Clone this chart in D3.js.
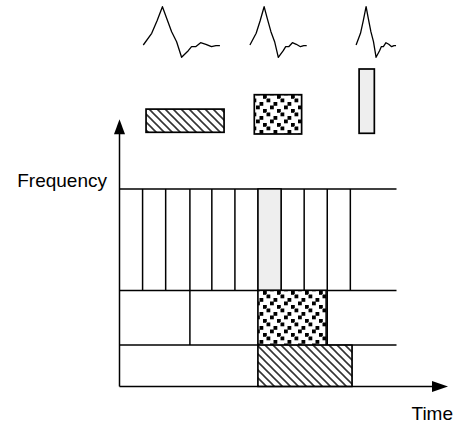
<!DOCTYPE html>
<html>
<head>
<meta charset="utf-8">
<script src="https://cdn.jsdelivr.net/npm/d3@7"></script>
<style>
  html, body { margin: 0; padding: 0; background: #fff; }
  svg { display: block; }
</style>
</head>
<body>
<div id="chart"></div>
<script>
// ---------------- data ----------------
const axisLabels = { x: "Time", y: "Frequency" };

// frequency band edges (frequency units)
const bandEdges = [0, 15.5, 36, 74];

// time cuts (time units) inside each band
const highBandCuts = [1, 2, 3.05, 4, 5, 6, 7, 8, 9, 10];
const midBandCuts = [3.05, 6, 9];
const lowBandCuts = [6, 10.07];
const bandRightEnd = 12;

// highlighted tiles
const tileNames = ["narrowHigh", "mediumMid", "wideLow"];
const tileTime = [[6, 7], [6, 8.95], [6, 10.07]];
const tileFreq = [[36, 74], [15.5, 36], [0, 15.5]];
const tileFill = ["gray", "dots", "hatch"];

// icon boxes above the plot: time extent and icon-height extent
const iconTime = [[1.15, 4.53], [5.84, 7.89], [10.38, 11.04]];
const iconLevel = [[1.7, 24.9], [0, 39.3], [0.7, 65]];
const iconFill = ["hatch", "dots", "gray"];

// waveform shape: relative time (0..1) and amplitude
const waveT = [0, 0.11, 0.18, 0.25, 0.305, 0.37, 0.435, 0.50, 0.587, 0.63, 0.683, 0.748, 0.817, 0.89, 0.948, 1];
const waveA = [0, 11.7, 24.3, 38.3, 26.7, 13.3, 3.3, -12.3, -5.7, -1.7, -1.7, 2.3, 0.7, -1.7, -0.7, -0.7];
// three waveforms: start time and duration (time units)
const waveStart = [1.03, 5.65, 10.25];
const waveDur = [3.32, 2.46, 1.73];

// ---------------- drawing ----------------
const W = 453, H = 427;
const svg = d3.select("#chart").append("svg")
  .attr("width", W).attr("height", H)
  .attr("font-family", "'Liberation Sans', Arial, sans-serif");

svg.append("rect").attr("width", W).attr("height", H).attr("fill", "#fff");

const x = d3.scaleLinear().domain([0, 12]).range([119.5, 396.5]);
const y = d3.scaleLinear().domain([0, 100]).range([386.5, 119.5]);
const iconY = d3.scaleLinear().domain([0, 100]).range([134, 34]);
const waveY = d3.scaleLinear().domain([0, 10]).range([45, 35]);

// patterns
const defs = svg.append("defs");
const hatch = defs.append("pattern").attr("id", "hatch")
  .attr("patternUnits", "userSpaceOnUse").attr("width", 8).attr("height", 8);
hatch.append("rect").attr("width", 8).attr("height", 8).attr("fill", "#fff");
hatch.append("path").attr("d", "M-2,-2L10,10M-2,6L2,10M6,-2L10,2")
  .attr("stroke", "#333").attr("stroke-width", 1.6);

const dots = defs.append("pattern").attr("id", "dots")
  .attr("patternUnits", "userSpaceOnUse").attr("width", 14).attr("height", 14);
dots.append("rect").attr("width", 14).attr("height", 14).attr("fill", "#fff");
[[0.5, 0.5], [7.5, 4], [4, 7.5], [11, 11], [-3, 11], [11, -3]].forEach(p => {
  dots.append("rect").attr("x", p[0]).attr("y", p[1])
    .attr("width", 3.8).attr("height", 3.8).attr("fill", "#000");
});
const fillOf = f => f === "gray" ? "#eeeeee" : `url(#${f})`;

const lw = 1.5;
const g = svg.append("g");

// band horizontal lines
bandEdges.slice(1).forEach(f => {
  g.append("line").attr("x1", x(0)).attr("x2", x(bandRightEnd))
    .attr("y1", y(f)).attr("y2", y(f))
    .attr("stroke", "#000").attr("stroke-width", lw);
});

// cuts
const cutSets = [lowBandCuts, midBandCuts, highBandCuts];
cutSets.forEach((cuts, i) => {
  cuts.forEach(t => {
    g.append("line").attr("x1", x(t)).attr("x2", x(t))
      .attr("y1", y(bandEdges[i])).attr("y2", y(bandEdges[i + 1]))
      .attr("stroke", "#000").attr("stroke-width", lw);
  });
});

// highlighted tiles
tileNames.forEach((n, i) => {
  g.append("rect")
    .attr("x", x(tileTime[i][0])).attr("y", y(tileFreq[i][1]))
    .attr("width", x(tileTime[i][1]) - x(tileTime[i][0]))
    .attr("height", y(tileFreq[i][0]) - y(tileFreq[i][1]))
    .attr("fill", fillOf(tileFill[i]))
    .attr("stroke", "#000").attr("stroke-width", lw);
});

// axes
const tipX = 448, tipY = 119.3;
g.append("line").attr("x1", x(0)).attr("x2", tipX - 14)
  .attr("y1", y(0)).attr("y2", y(0)).attr("stroke", "#000").attr("stroke-width", lw);
g.append("line").attr("x1", x(0)).attr("x2", x(0))
  .attr("y1", y(0)).attr("y2", tipY + 12).attr("stroke", "#000").attr("stroke-width", lw);
g.append("path")
  .attr("d", `M${tipX},${y(0)}L${tipX - 16},${y(0) - 5.5}L${tipX - 16},${y(0) + 5.5}Z`)
  .attr("fill", "#000");
g.append("path")
  .attr("d", `M${x(0)},${tipY}L${x(0) - 5.5},${tipY + 15}L${x(0) + 5.5},${tipY + 15}Z`)
  .attr("fill", "#000");

// axis labels
svg.append("text").attr("x", 107).attr("y", 187)
  .attr("text-anchor", "end").attr("font-size", 19).attr("fill", "#000")
  .text(axisLabels.y);
svg.append("text").attr("x", 411.5).attr("y", 420)
  .attr("text-anchor", "start").attr("font-size", 19).attr("fill", "#000")
  .text(axisLabels.x);

// icon boxes
iconTime.forEach((t, i) => {
  svg.append("rect")
    .attr("x", x(t[0])).attr("y", iconY(iconLevel[i][1]))
    .attr("width", x(t[1]) - x(t[0]))
    .attr("height", iconY(iconLevel[i][0]) - iconY(iconLevel[i][1]))
    .attr("fill", fillOf(iconFill[i]))
    .attr("stroke", "#000").attr("stroke-width", 1.7);
});

// waveforms
waveStart.forEach((s, i) => {
  const line = d3.line()
    .x((d, j) => x(s + waveT[j] * waveDur[i]))
    .y(d => waveY(d));
  svg.append("path").datum(waveA).attr("d", line)
    .attr("fill", "none").attr("stroke", "#000")
    .attr("stroke-width", 1.3).attr("stroke-linejoin", "round");
});
</script>
</body>
</html>
